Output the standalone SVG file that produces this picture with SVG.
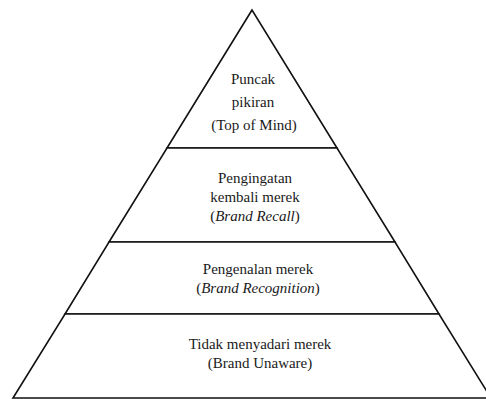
<svg xmlns="http://www.w3.org/2000/svg" width="486" height="399" viewBox="0 0 486 399">
<style>
.lv{fill:#fff;stroke:#111;stroke-width:1.6;stroke-linejoin:miter}
.t{font-size:15px;fill:#1a1a1a;text-anchor:middle}
.i{font-style:italic}
</style>
<rect width="486" height="399" fill="#fff"/>
<g font-family="'Liberation Serif', 'DejaVu Serif', serif">
<g id="top-of-mind">
<polygon class="lv" points="252,10 167,148 337,148"/>
<text class="t" x="253" y="84">Puncak</text>
<text class="t" x="253" y="107">pikiran</text>
<text class="t" x="254" y="130">(Top of Mind)</text>
</g>
<g id="brand-recall">
<polygon class="lv" points="167,148 337,148 395,242 109,242"/>
<text class="t" x="255" y="183">Pengingatan</text>
<text class="t" x="255" y="202">kembali merek</text>
<text class="t" x="255" y="221">(<tspan class="i">Brand Recall</tspan>)</text>
</g>
<g id="brand-recognition">
<polygon class="lv" points="109,242 395,242 439,314 65,314"/>
<text class="t" x="258" y="274">Pengenalan merek</text>
<text class="t" x="258" y="293">(<tspan class="i">Brand Recognition</tspan>)</text>
</g>
<g id="brand-unaware">
<polygon class="lv" points="65,314 439,314 491,398 13,398"/>
<text class="t" x="260" y="349">Tidak menyadari merek</text>
<text class="t" x="260" y="368">(Brand Unaware)</text>
</g>
</g>
</svg>
